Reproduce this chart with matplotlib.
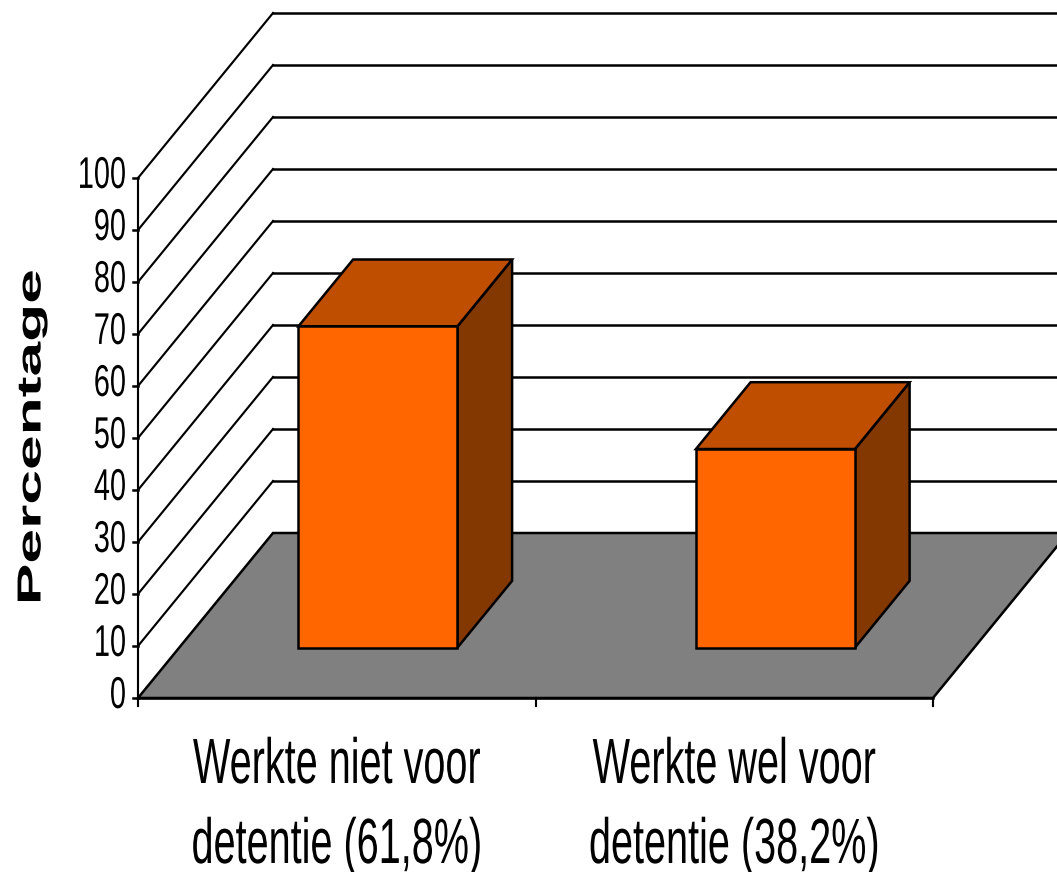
import matplotlib
matplotlib.use("Agg")
import matplotlib.pyplot as plt
from matplotlib.patches import Polygon
from matplotlib.patheffects import AbstractPathEffect
from matplotlib.transforms import Affine2D

categories = [["Werkte niet voor", "detentie (61,8%)"], ["Werkte wel voor", "detentie (38,2%)"]]
values = [61.8, 38.2]
yticks = [0, 10, 20, 30, 40, 50, 60, 70, 80, 90, 100]

W, H = 1057, 872
X0, Y0 = 138, 698  # pixel position of the origin
PX_X = 397.5       # pixels per category
PX_Y = 5.2         # pixels per percent

# oblique projection of the depth axis, in data units
depth_x = 135 / PX_X
depth_y = 165 / PX_Y
bar_width = 0.4
bar_front = 0.305
bar_back = 0.71
lw = 1.8
FONT = "Liberation Sans"


# the original uses a narrow font that is not installed, so squeeze the glyphs
class Stretch(AbstractPathEffect):
    def __init__(self, text, sx=1.0, sy=1.0):
        super().__init__()
        self.text = text
        self.sx = sx
        self.sy = sy

    def draw_path(self, renderer, gc, tpath, affine, rgbFace=None):
        cx, cy = self.text.get_transform().transform(self.text.get_position())
        extra = Affine2D().translate(-cx, -cy).scale(self.sx, self.sy).translate(cx, cy)
        renderer.draw_path(gc, tpath, affine + extra, rgbFace)


def stretched(x, y, s, sx=1.0, sy=1.0, **kw):
    t = ax.text(x, y, s, family=FONT, color="black", **kw)
    t.set_path_effects([Stretch(t, sx, sy)])
    return t


fig = plt.figure(figsize=(W / 100, H / 100), dpi=100)
ax = fig.add_axes([0, 0, 1, 1])
ax.set_xlim(-X0 / PX_X, (W - X0) / PX_X)
ax.set_ylim((Y0 - H) / PX_Y, Y0 / PX_Y)
ax.axis("off")


def proj(x, y, d):
    return (x + d * depth_x, y + d * depth_y)


n = len(categories)

# floor
ax.add_patch(Polygon([proj(0, 0, 0), proj(n, 0, 0), proj(n, 0, 1), proj(0, 0, 1)],
                     fc="#808080", ec="black", lw=lw, zorder=1))

# walls
for t in yticks[1:]:
    p0 = proj(0, t, 0)
    p1 = proj(0, t, 1)
    ax.plot([p0[0], p1[0]], [p0[1], p1[1]], color="black", lw=lw * 0.85, zorder=2)
    ax.plot([p1[0], ax.get_xlim()[1]], [p1[1], p1[1]], color="black", lw=lw, zorder=2)

# axes and ticks
ax.plot([0, 0], [0, 100], color="black", lw=lw * 0.85, zorder=3)
ax.plot([0, n], [0, 0], color="black", lw=lw, zorder=3)
for t in yticks:
    ax.plot([-5 / PX_X, 0], [t, t], color="black", lw=lw, zorder=3)
    stretched(-12 / PX_X, t + 0.3, str(t), sx=0.65, ha="right", va="center", fontsize=32)
for i in range(n + 1):
    ax.plot([i, i], [0, -8 / PX_Y], color="black", lw=lw * 0.85, zorder=3)

# bars
for i, v in enumerate(values):
    x0 = i + 0.5 - bar_width / 2
    x1 = i + 0.5 + bar_width / 2
    top = [proj(x0, v, bar_front), proj(x1, v, bar_front), proj(x1, v, bar_back), proj(x0, v, bar_back)]
    side = [proj(x1, 0, bar_front), proj(x1, v, bar_front), proj(x1, v, bar_back), proj(x1, 0, bar_back)]
    front = [proj(x0, 0, bar_front), proj(x1, 0, bar_front), proj(x1, v, bar_front), proj(x0, v, bar_front)]
    ax.add_patch(Polygon(side, fc="#823800", ec="black", lw=lw, zorder=4))
    ax.add_patch(Polygon(top, fc="#BF4E00", ec="black", lw=lw, zorder=4))
    ax.add_patch(Polygon(front, fc="#FF6600", ec="black", lw=lw, zorder=5))
    stretched(i + 0.5, -(783 - Y0) / PX_Y, categories[i][0], sx=0.62, ha="center", va="baseline", fontsize=46)
    stretched(i + 0.5, -(863 - Y0) / PX_Y, categories[i][1], sx=0.62, ha="center", va="baseline", fontsize=46)

stretched((32 - X0) / PX_X, (Y0 - 437) / PX_Y, "Percentage", sy=1.87, rotation=90, ha="center", va="center",
          fontsize=24, fontweight="bold")

fig.savefig("out.png", dpi=100)
